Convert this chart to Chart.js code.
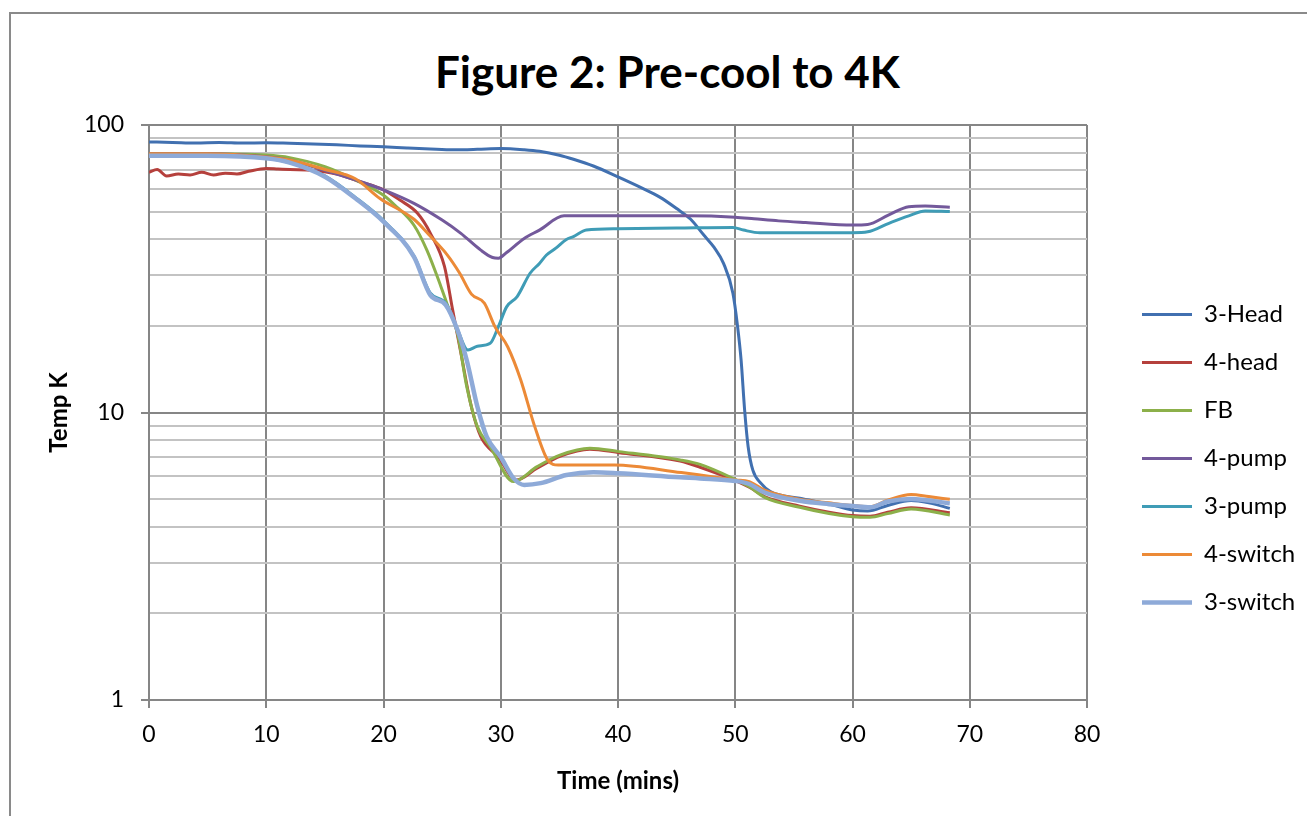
<!DOCTYPE html>
<html lang="en">
<head>
<meta charset="UTF-8">
<title>Figure 2: Pre-cool to 4K</title>
<style>
    html, body { margin: 0; padding: 0; background: #fff; overflow: hidden; }
    #frame { position: absolute; left: 9px; top: 12px; width: 1330px; height: 840px; border: 2px solid #8a8a8a; }
    #title { position: absolute; left: 0; top: 48px; width: 1335px; text-align: center;
             font: bold 44px Lato, sans-serif; line-height: 46px; color: #000; }
    #chartBox { position: absolute; left: 0; top: 0; width: 1307px; height: 816px; }
</style>
</head>
<body>
<div id="frame"></div>
<div id="title">Figure 2: Pre-cool to 4K</div>
<div id="chartBox"><canvas id="myChart" width="1307" height="816"></canvas></div>

<script src="https://cdn.jsdelivr.net/npm/chart.js"></script>
<script>
    // y axis grid values (log) and the ones that get a label
    const tempGrid = [1, 2, 3, 4, 5, 6, 7, 8, 9, 10, 20, 30, 40, 50, 60, 70, 80, 90, 100];
    const tempLabels = [1, 10, 100];

    // 3-Head
    const head3Time = [0, 2, 4, 6, 8, 10, 12, 14, 16, 18, 20, 22, 24, 26, 28, 30, 32, 33.3, 35, 36.2, 37.9, 40,
        42.1, 43.6, 45, 46.2, 47.3, 48.2, 49, 49.8, 50.2, 50.5, 50.8, 51.1, 51.5, 52.2, 53, 55.5, 58, 60, 61.3, 63, 65, 66.5, 68.3];
    const head3Temp = [87.3, 87.0, 86.6, 86.9, 86.5, 86.8, 86.4, 85.9, 85.3, 84.6, 84.0, 83.2, 82.5, 82.0, 82.3, 82.8, 82.0, 81.0, 78.5, 76.0, 72.0, 66.0,
        60.2, 56.0, 51.2, 47.0, 41.5, 37.5, 33.0, 26.0, 19.9, 15.2, 10.2, 7.6, 6.3, 5.67, 5.31, 5.03, 4.8, 4.58, 4.54, 4.75, 4.94, 4.85, 4.64];

    // 4-head
    const head4Time = [0, 0.7, 1.5, 2.5, 3.5, 4.5, 5.5, 6.5, 7.5, 8.5, 10, 11, 12, 14, 16, 18, 20, 21.4, 22.9, 24, 25.2, 25.9,
        26.6, 27.5, 28.3, 29.8, 31.3, 33.1, 35.1, 37.6, 40.1, 45.3, 47, 50, 51.2, 52.5, 55.5, 58, 60, 61.5, 63, 65, 68.3];
    const head4Temp = [68.5, 70.0, 66.5, 67.5, 67.0, 68.5, 67.0, 68.0, 67.5, 69.0, 70.6, 70.3, 70.0, 69.5, 67.5, 63.5, 59.5, 54.8, 49.3, 42.0, 32.2, 22.7,
        16.1, 10.45, 8.24, 7.0, 5.82, 6.4, 7.05, 7.45, 7.25, 6.78, 6.45, 5.8, 5.5, 5.1, 4.72, 4.5, 4.38, 4.36, 4.5, 4.66, 4.48];

    // FB
    const fbTime = [0, 5, 10, 12, 15, 17.6, 20, 21, 22.6, 23.7, 24.9, 25.4, 26.3, 27.1, 28, 29.1, 31.1, 33.1, 35.1, 37.6,
        40.1, 45.3, 47, 50, 51.2, 52.5, 55.5, 58, 60, 61.5, 63, 65, 68.3];
    const fbTemp = [79.5, 79.5, 78.6, 77.0, 71.6, 64.4, 57.0, 52.5, 44.8, 36.7, 27.4, 24.0, 18.9, 12.3, 8.93, 7.6, 5.75, 6.48, 7.12, 7.51,
        7.31, 6.84, 6.6, 5.85, 5.52, 5.07, 4.68, 4.45, 4.34, 4.32, 4.45, 4.62, 4.40];

    // 4-pump
    const pump4Time = [0, 5, 10, 12, 15, 17.6, 20, 22.6, 25, 26.6, 28.3, 29.3, 29.8, 30.5, 32, 33.3, 35.4, 40, 45.8, 50,
        51.6, 53.7, 56, 60, 61.3, 63.1, 64.8, 66.2, 68.3];
    const pump4Temp = [79.5, 79.5, 77.5, 75.5, 69.5, 64.4, 59.5, 53.4, 46.7, 42.0, 36.7, 34.6, 34.4, 36.0, 40.3, 43.1, 48.3, 48.3, 48.3, 47.8,
        47.2, 46.4, 45.8, 44.9, 45.1, 48.7, 52.0, 52.3, 51.8];

    // 3-pump
    const pump3Time = [0, 5, 10, 12, 15, 17.6, 20, 22.6, 24, 25.3, 26.3, 27.2, 28, 29.1, 29.8, 30.5, 31.4, 32.5, 33.3, 33.9,
        34.7, 35.6, 36.2, 37.3, 40, 45, 49.8, 50.7, 52.1, 60, 61.3, 63.1, 64.8, 66.2, 68.3];
    const pump3Temp = [78.5, 78.5, 76.8, 74.0, 66.5, 56.0, 46.5, 35.0, 26.0, 24.0, 19.5, 16.5, 17.0, 17.4, 19.9, 23.3, 25.3, 30.5, 33.0, 35.3,
        37.3, 40.0, 40.9, 43.1, 43.6, 43.8, 44.0, 43.1, 42.2, 42.2, 42.5, 45.5, 48.3, 50.2, 50.0];

    // 4-switch
    const switch4Time = [0, 5, 10, 12, 15, 17.6, 19.7, 22.6, 24, 25.4, 26.5, 27.5, 28.6, 29.5, 30.6, 31.7, 32.9, 34, 34.9, 39.7,
        45.4, 47, 50, 51.2, 52.5, 55.5, 58, 60, 61.5, 63, 65, 66.5, 68.3];
    const switch4Temp = [79.5, 79.5, 77.4, 75.5, 70.0, 65.0, 55.5, 47.0, 41.0, 35.5, 30.5, 25.8, 24.0, 19.9, 16.9, 13.0, 8.93, 6.84, 6.57, 6.57,
        6.18, 6.06, 5.83, 5.75, 5.37, 4.99, 4.85, 4.75, 4.7, 4.95, 5.19, 5.1, 4.99];

    // 3-switch
    const switch3Time = [0, 5, 10, 12, 15, 17.6, 20, 22.6, 24, 25.3, 26.3, 27.1, 28, 28.8, 30, 31.1, 32, 33.4, 35.6, 37.9,
        40, 45.3, 47, 50, 51.2, 52.5, 55.5, 58, 60, 61.5, 63, 65, 68.3];
    const switch3Temp = [78.2, 78.2, 76.6, 74.0, 66.1, 55.6, 46.1, 34.8, 25.6, 23.7, 19.4, 15.2, 10.5, 8.24, 7.0, 5.9, 5.6, 5.68, 6.06, 6.2,
        6.15, 5.95, 5.9, 5.78, 5.64, 5.27, 4.93, 4.8, 4.73, 4.68, 4.9, 5.0, 4.83];

    Chart.defaults.font.family = "Lato, 'Open Sans', sans-serif";
    Chart.defaults.color = '#000';

    // one line dataset out of a time list and a temp list
    function mkSet(label, times, temps, color, width, order){
        return {
            label: label,
            data: times.map((t, i) => ({x: t, y: temps[i]})),
            borderColor: color,
            backgroundColor: color,
            borderWidth: width,
            pointRadius: 0,
            pointHoverRadius: 0,
            order: order
        };
    }

    // legend sits a bit further right and lower than chart.js puts it,
    // and gets room for its labels (it clips to its own box)
    const legendNudge = {
        id: 'legendNudge',
        afterLayout(chart){
            const lg = chart.legend;
            lg.left += 31;
            lg.right = lg.left + 205;
            lg.top += 46; lg.bottom += 46;
        }
    };

    const majorGrid = '#868686';
    const minorGrid = '#c3c3c3';

    const ctx = document.getElementById('myChart');
    const myChart = new Chart(ctx, {
        type: 'line',
        data: {
            datasets: [
                mkSet('3-Head', head3Time, head3Temp, '#4170b0', 3, 7),
                mkSet('4-head', head4Time, head4Temp, '#b5403c', 3, 6),
                mkSet('FB', fbTime, fbTemp, '#8cb04a', 3, 5),
                mkSet('4-pump', pump4Time, pump4Temp, '#73599b', 3, 4),
                mkSet('3-pump', pump3Time, pump3Temp, '#3f9cb6', 3, 3),
                mkSet('4-switch', switch4Time, switch4Temp, '#ec8a37', 3, 2),
                mkSet('3-switch', switch3Time, switch3Temp, '#8eaad8', 4.5, 1)
            ]
        },
        options: {
            responsive: false,
            animation: false,
            devicePixelRatio: 1,
            layout: { padding: { top: 125, right: 70, bottom: 0, left: 0 } },
            elements: { line: { cubicInterpolationMode: 'monotone' } },
            plugins: {
                legend: {
                    position: 'right',
                    fullSize: false,
                    maxWidth: 150,
                    labels: {
                        usePointStyle: true,
                        pointStyle: 'line',
                        pointStyleWidth: 50,
                        padding: 24,
                        color: '#000',
                        font: { size: 24 },
                        sort: (a, b) => a.datasetIndex - b.datasetIndex
                    }
                },
                tooltip: { enabled: false }
            },
            scales: {
                x: {
                    type: 'linear',
                    min: 0,
                    max: 80,
                    ticks: { stepSize: 10, padding: 13, color: '#000', font: { size: 23 } },
                    grid: { color: majorGrid, lineWidth: 2, tickLength: 8 },
                    border: { color: majorGrid, width: 2 },
                    title: { display: true, text: 'Time (mins)', color: '#000',
                             font: { size: 24, weight: 'bold' }, padding: { top: 0, bottom: 20 } },
                    afterFit: (s) => { s.height = 116; }
                },
                y: {
                    type: 'logarithmic',
                    min: 1,
                    max: 100,
                    afterBuildTicks: (s) => { s.ticks = tempGrid.map(v => ({ value: v })); },
                    ticks: {
                        autoSkip: false,
                        padding: 17,
                        color: '#000',
                        font: { size: 23 },
                        callback: (v) => tempLabels.includes(v) ? String(v) : ''
                    },
                    grid: {
                        lineWidth: 2,
                        tickLength: 8,
                        color: (c) => tempLabels.includes(c.tick.value) ? majorGrid : minorGrid,
                        tickColor: (c) => tempLabels.includes(c.tick.value) ? majorGrid : 'rgba(0,0,0,0)'
                    },
                    border: { color: majorGrid, width: 2 },
                    title: { display: true, text: 'Temp K', color: '#000',
                             font: { size: 24, weight: 'bold' }, padding: { top: 45, bottom: 0 } },
                    afterFit: (s) => { s.width = 149; }
                }
            }
        },
        plugins: [legendNudge]
    });
</script>
</body>
</html>
